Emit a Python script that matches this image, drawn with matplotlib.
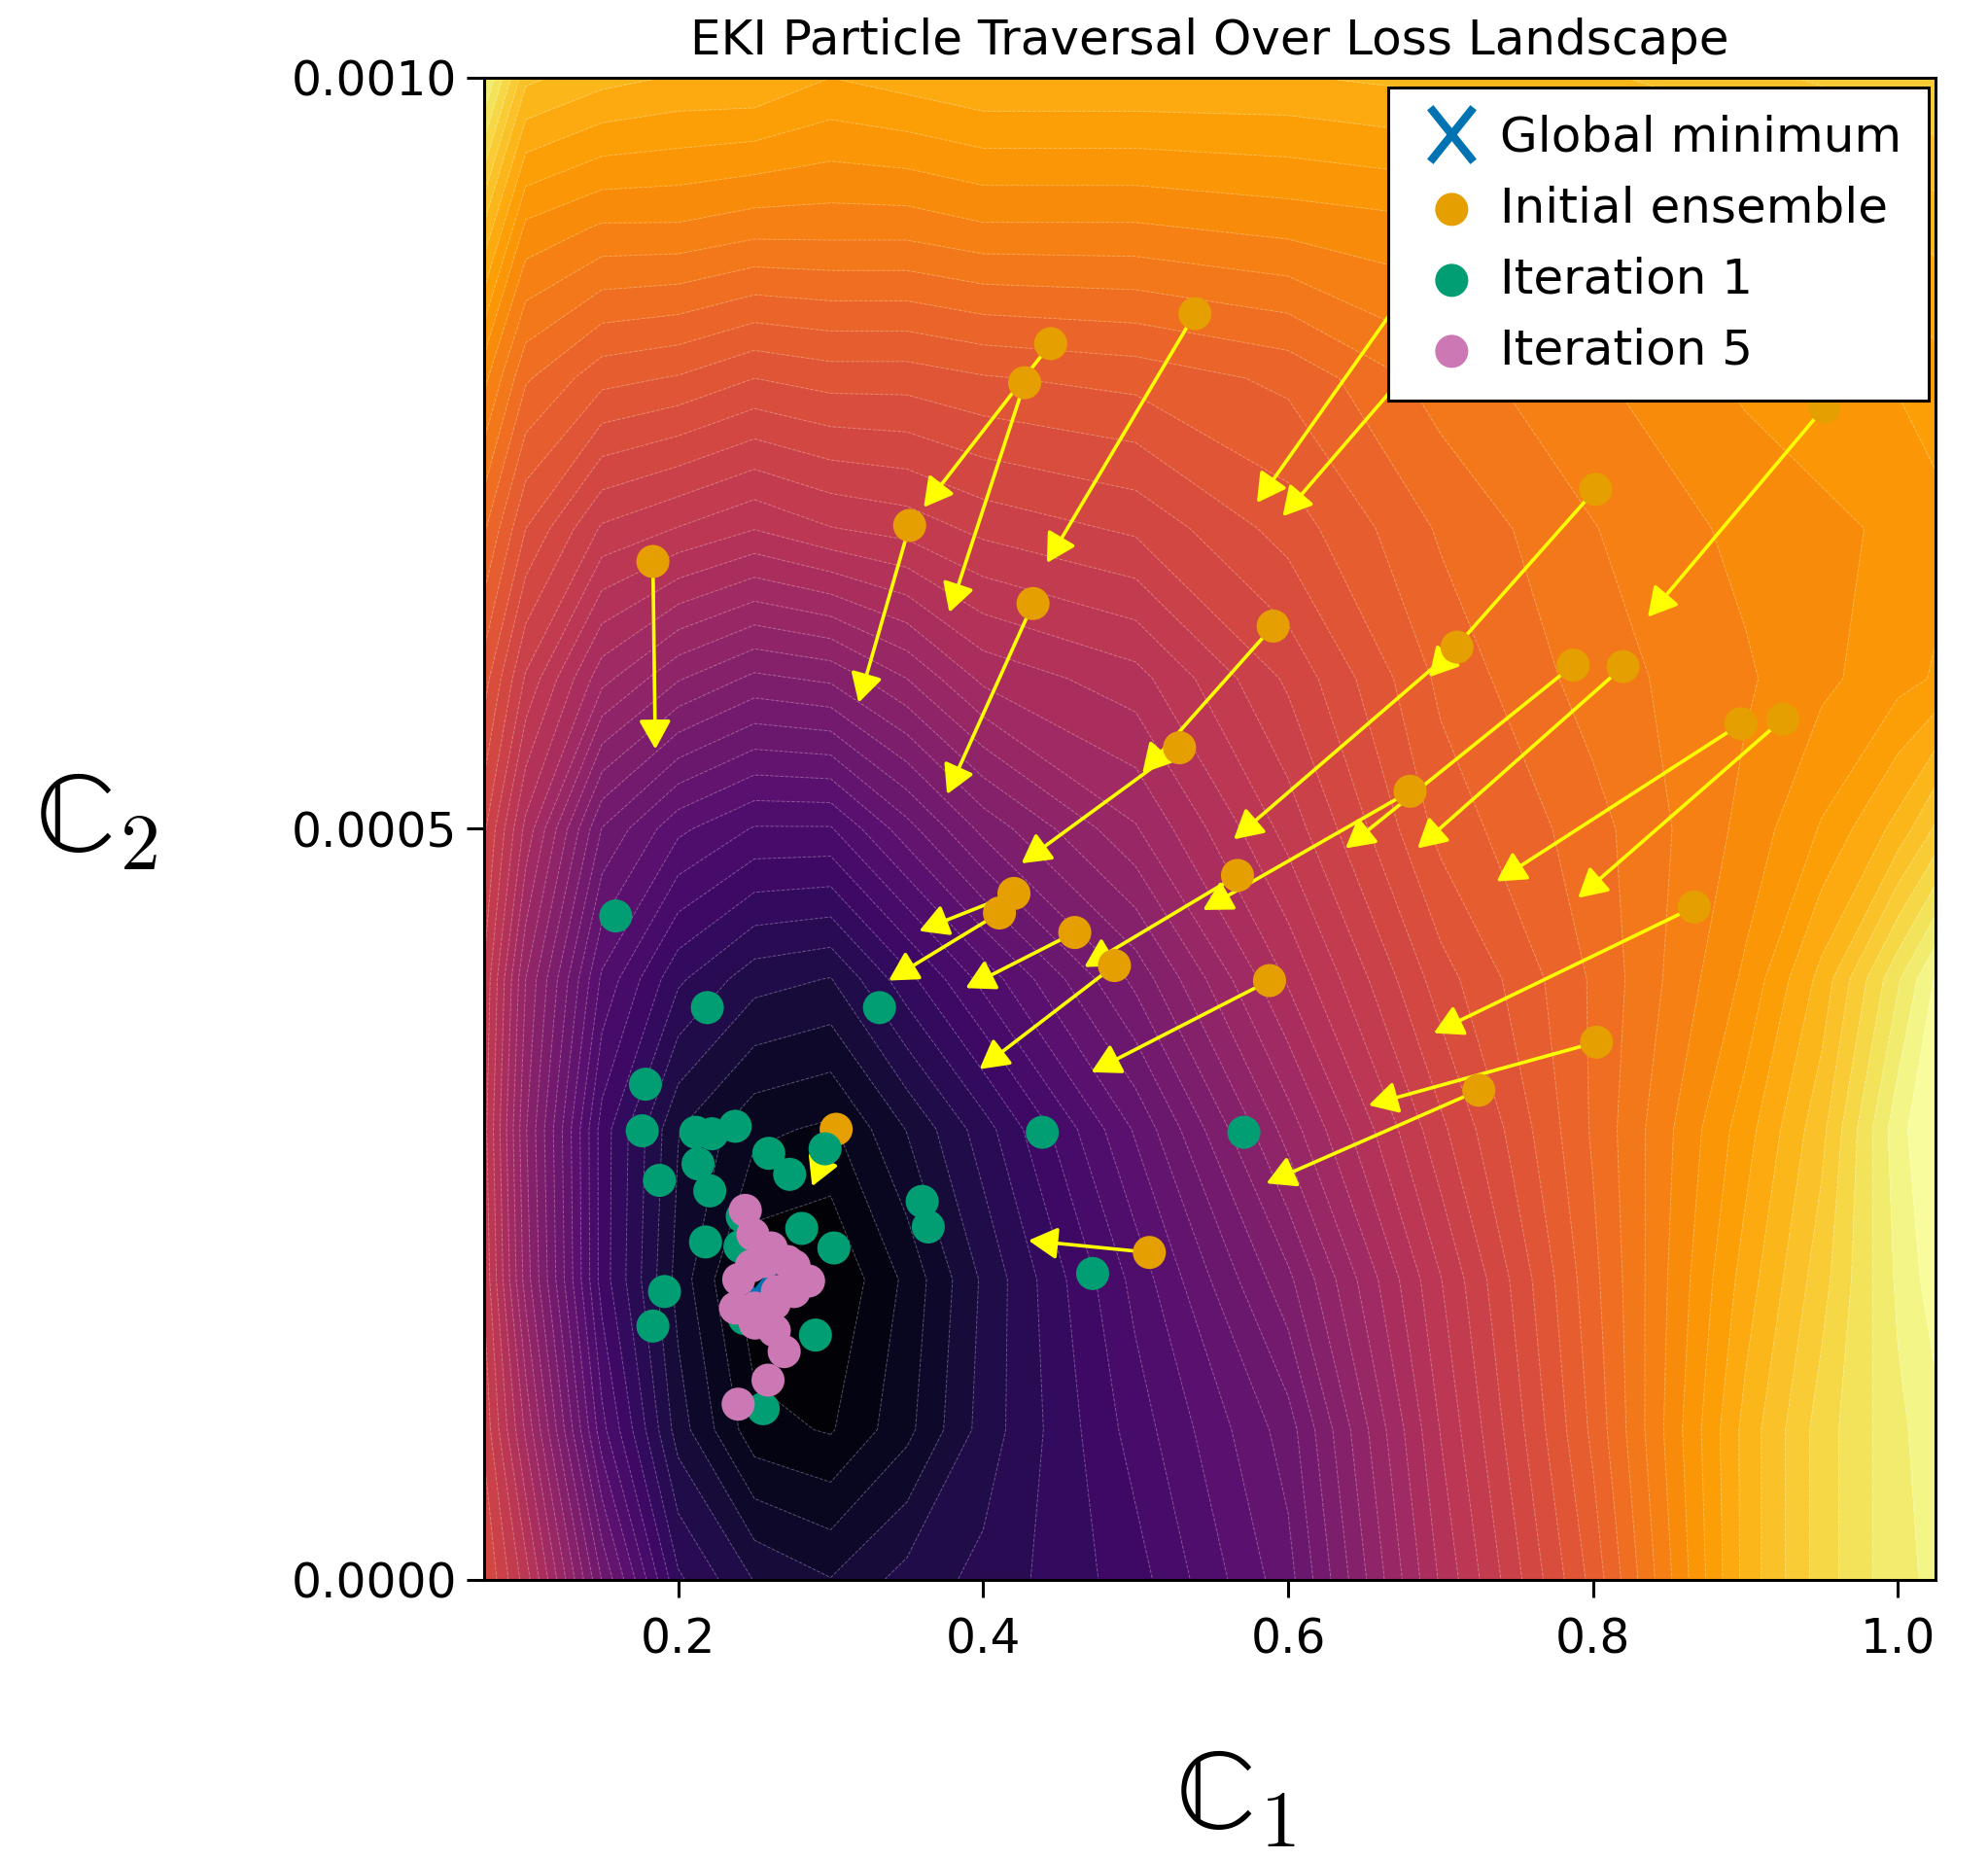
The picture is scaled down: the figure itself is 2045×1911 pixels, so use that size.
import numpy as np
import matplotlib
matplotlib.use("Agg")
import matplotlib.pyplot as plt
from matplotlib.path import Path
from matplotlib.ticker import FormatStrFormatter

plt.rcParams["font.family"] = ["DejaVu Sans"]
plt.rcParams["mathtext.fontset"] = "cm"

# ---------------------------------------------------------------------------
# Loss landscape sampled on a coarse parameter grid (normalised, 0 = minimum)
# ---------------------------------------------------------------------------
c1_grid = [0.0727, 0.1, 0.15, 0.2, 0.25, 0.3, 0.35, 0.4, 0.5, 0.6, 0.7, 0.8,
           0.9, 0.95, 1.0, 1.0246]
c2_grid = [0.0, 0.0001, 0.0002, 0.0003, 0.0004, 0.0005, 0.0006, 0.0007,
           0.0008, 0.0009, 0.001]
loss_grid = [
    [0.58, 0.50, 0.31, 0.16, 0.11, 0.09, 0.12, 0.14, 0.19, 0.28, 0.47, 0.63, 0.83, 0.90, 0.95, 0.96],
    [0.55, 0.44, 0.23, 0.10, 0.03, 0.02, 0.06, 0.12, 0.21, 0.30, 0.49, 0.65, 0.83, 0.90, 0.95, 0.97],
    [0.53, 0.39, 0.19, 0.08, 0.005, 0.0, 0.05, 0.115, 0.23, 0.35, 0.51, 0.66, 0.81, 0.88, 0.96, 0.99],
    [0.52, 0.38, 0.19, 0.09, 0.05, 0.04, 0.09, 0.145, 0.27, 0.41, 0.55, 0.67, 0.79, 0.86, 0.97, 1.00],
    [0.53, 0.40, 0.24, 0.16, 0.12, 0.11, 0.17, 0.23, 0.34, 0.47, 0.59, 0.67, 0.76, 0.83, 0.93, 0.98],
    [0.56, 0.46, 0.31, 0.25, 0.22, 0.22, 0.28, 0.34, 0.42, 0.52, 0.63, 0.68, 0.74, 0.78, 0.83, 0.87],
    [0.61, 0.53, 0.43, 0.38, 0.35, 0.36, 0.40, 0.45, 0.48, 0.56, 0.65, 0.70, 0.73, 0.75, 0.77, 0.78],
    [0.67, 0.60, 0.53, 0.51, 0.49, 0.51, 0.52, 0.54, 0.56, 0.61, 0.67, 0.71, 0.74, 0.75, 0.76, 0.77],
    [0.74, 0.67, 0.63, 0.62, 0.60, 0.61, 0.61, 0.62, 0.63, 0.65, 0.70, 0.73, 0.76, 0.77, 0.78, 0.79],
    [0.84, 0.75, 0.73, 0.73, 0.72, 0.72, 0.72, 0.73, 0.73, 0.74, 0.75, 0.77, 0.80, 0.81, 0.82, 0.83],
    [0.96, 0.85, 0.83, 0.82, 0.82, 0.80, 0.81, 0.82, 0.82, 0.82, 0.83, 0.84, 0.86, 0.87, 0.88, 0.89],
]

# Global minimum of the loss
gmin_c1 = 0.25
gmin_c2 = 0.00019

# Initial ensemble and the update step each particle takes (arrow tips)
init_c1 = [0.1834, 0.4443, 0.4272, 0.5389, 0.3518, 0.4327, 0.5288, 0.7200,
           0.7077, 0.9519, 0.8017, 0.5902, 0.7108, 0.7870, 0.8197, 0.8970,
           0.9244, 0.6800, 0.5668, 0.5878, 0.8664, 0.8023, 0.7251, 0.4202,
           0.4107, 0.4601, 0.4861, 0.3036, 0.5090]
init_c2 = [0.000678, 0.000823, 0.000797, 0.000843, 0.000702, 0.000650,
           0.000554, 0.000919, 0.000839, 0.000781, 0.000726, 0.000635,
           0.000621, 0.000609, 0.000608, 0.000570, 0.000573, 0.000525,
           0.000469, 0.000399, 0.000448, 0.000358, 0.000326, 0.000457,
           0.000444, 0.000431, 0.000409, 0.000300, 0.000218]
tip_c1 = [0.1850, 0.3610, 0.3778, 0.4418, 0.3183, 0.3763, 0.4251, 0.5795,
          0.5964, 0.8359, 0.6925, 0.5044, 0.5643, 0.6376, 0.6848, 0.7367,
          0.7901, 0.5441, 0.4663, 0.4709, 0.6955, 0.6528, 0.5857, 0.3580,
          0.3380, 0.3885, 0.3976, 0.2878, 0.4297]
tip_c2 = [0.000553, 0.000714, 0.000644, 0.000677, 0.000584, 0.000523,
          0.000477, 0.000717, 0.000708, 0.000641, 0.000601, 0.000537,
          0.000493, 0.000487, 0.000487, 0.000465, 0.000454, 0.000446,
          0.000408, 0.000338, 0.000364, 0.000316, 0.000264, 0.000432,
          0.000399, 0.000394, 0.000340, 0.000262, 0.000226]

# Ensemble after the first iteration
iter1_c1 = [0.1590, 0.2191, 0.3320, 0.1785, 0.1764, 0.2115, 0.2221, 0.2374,
            0.2594, 0.2963, 0.2130, 0.2731, 0.1877, 0.2207, 0.2420, 0.2810,
            0.2179, 0.2405, 0.3021, 0.3600, 0.3640, 0.4388, 0.4718, 0.1910,
            0.1834, 0.2435, 0.2900, 0.2557, 0.5710]
iter1_c2 = [0.000442, 0.000381, 0.000381, 0.000330, 0.000299, 0.000298,
            0.000297, 0.000302, 0.000284, 0.000287, 0.000277, 0.000270,
            0.000266, 0.000259, 0.000242, 0.000234, 0.000225, 0.000222,
            0.000221, 0.000252, 0.000235, 0.000298, 0.000204, 0.000192,
            0.000169, 0.000174, 0.000163, 0.000114, 0.000298]

# Ensemble after the fifth iteration
iter5_c1 = [0.2440, 0.2490, 0.2610, 0.2716, 0.2480, 0.2570, 0.2760, 0.2855,
            0.2397, 0.2650, 0.2760, 0.2376, 0.2504, 0.2630, 0.2504, 0.2630,
            0.2695, 0.2589, 0.2393]
iter5_c2 = [0.000246, 0.000230, 0.000221, 0.000212, 0.000209, 0.000212,
            0.000209, 0.000199, 0.000200, 0.000192, 0.000192, 0.000181,
            0.000181, 0.000184, 0.000171, 0.000166, 0.000152, 0.000133,
            0.000117]

C_BLUE = "#0173b2"
C_ORANGE = "#e69f00"
C_GREEN = "#029e73"
C_PINK = "#cc78b4"
POINT_SIZE = 600

fig = plt.figure(figsize=(20.45, 19.11), dpi=100)
ax = fig.add_axes([0.24352, 0.14966, 0.73007, 0.80848])

# Loss landscape
G1, G2 = np.meshgrid(c1_grid, c2_grid)
Z = np.array(loss_grid)
levels = np.linspace(0.0, 1.0, 46)
ax.contourf(G1, G2, Z, levels=levels, cmap="inferno", zorder=0)
ax.contour(G1, G2, Z, levels=levels, colors="white", linewidths=0.7,
           alpha=0.3, linestyles="--", zorder=1)

# Particle update arrows
for x0, y0, x1, y1 in zip(init_c1, init_c2, tip_c1, tip_c2):
    ax.annotate("", xy=(x1, y1), xytext=(x0, y0), zorder=3,
                arrowprops=dict(arrowstyle="-|>,head_length=0.45,head_width=0.25",
                                color="#ffff00", lw=2.6, shrinkA=0, shrinkB=0,
                                mutation_scale=40))

# Global minimum marker (an X, slightly taller than wide)
x_path = Path([(-0.4, -0.5), (0.4, 0.5), (-0.4, 0.5), (0.4, -0.5)],
              [Path.MOVETO, Path.LINETO, Path.MOVETO, Path.LINETO])
ax.plot([gmin_c1], [gmin_c2], linestyle="none", marker=x_path, markersize=40,
        markeredgewidth=6, color=C_BLUE, label="Global minimum", zorder=3.5)

ax.scatter(init_c1, init_c2, s=POINT_SIZE, color=C_ORANGE, edgecolors="none",
           label="Initial ensemble", zorder=4)
ax.scatter(iter1_c1, iter1_c2, s=POINT_SIZE, color=C_GREEN, edgecolors="none",
           label="Iteration 1", zorder=4.1)
ax.scatter(iter5_c1, iter5_c2, s=POINT_SIZE, color=C_PINK, edgecolors="none",
           label="Iteration 5", zorder=4.2)

ax.set_xlim(0.0727, 1.0246)
ax.set_ylim(0.0, 0.001)
ax.set_xticks([0.2, 0.4, 0.6, 0.8, 1.0])
ax.set_yticks([0.0, 0.0005, 0.001])
ax.xaxis.set_major_formatter(FormatStrFormatter("%.1f"))
ax.yaxis.set_major_formatter(FormatStrFormatter("%.4f"))
ax.tick_params(axis="both", labelsize=35, length=13, width=2.2, direction="out")
ax.tick_params(axis="x", pad=14)
ax.tick_params(axis="y", pad=7)
for sp in ax.spines.values():
    sp.set_linewidth(2.2)

ax.set_title("EKI Particle Traversal Over Loss Landscape", fontsize=36, pad=17)

# Double-struck parameter names: the letter from STIX, the index from mathtext
label_font = ["STIXGeneral", "DejaVu Serif"]
ax.set_xlabel("ℂ$_1$", fontsize=84, family=label_font, ha="center", va="center")
ax.xaxis.set_label_coords(0.518, -0.147)
ax.set_ylabel("ℂ$_2$", fontsize=84, family=label_font, rotation=0,
              ha="center", va="center")
ax.yaxis.set_label_coords(-0.267, 0.503)

leg = ax.legend(loc="upper right", bbox_to_anchor=(1 - 7 / 1493, 1 - 10 / 1545),
                borderaxespad=0, fontsize=36, frameon=True, fancybox=False,
                framealpha=1, edgecolor="black", borderpad=0.55,
                labelspacing=0.5, handlelength=1.5, handletextpad=0.25)
leg.get_frame().set_linewidth(2.2)
leg.set_zorder(10)

fig.savefig("out.png", dpi=100, facecolor="white")
